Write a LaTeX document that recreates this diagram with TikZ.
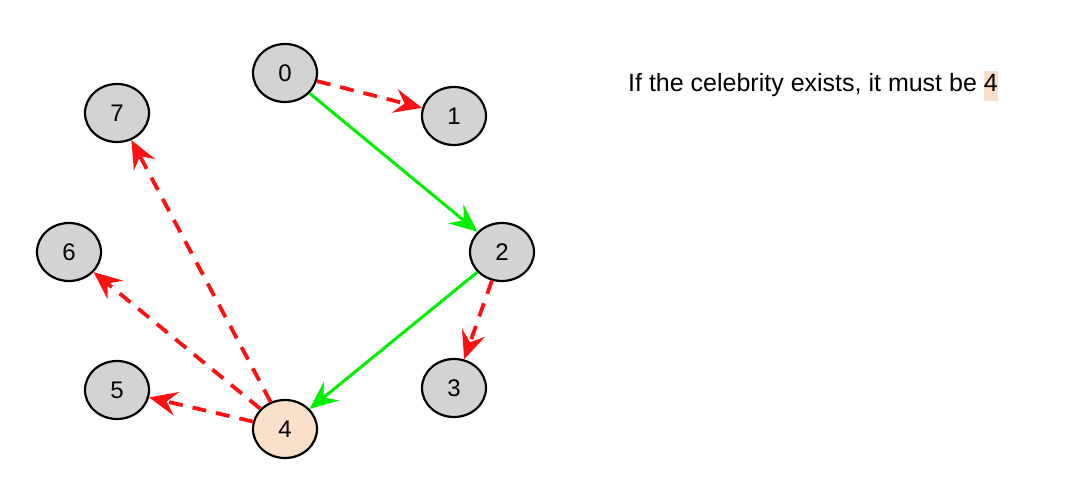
\documentclass[tikz,border=0pt]{standalone}
\usepackage{fontspec}
\setmainfont{Liberation Sans}
\usetikzlibrary{shapes}
\usetikzlibrary{positioning}
\usetikzlibrary{arrows.meta}
\definecolor{vgray}{HTML}{D3D3D3}
\definecolor{celebfill}{HTML}{FAE0C8}
\definecolor{yesgreen}{HTML}{00F000}
\definecolor{nored}{HTML}{FF1010}

\begin{document}
\begin{tikzpicture}[x=1pt,y=-1pt,
            vertex/.style = {draw,ellipse,line width=2.2pt,fill=vgray,
                minimum width=64pt,minimum height=58pt,inner sep=0pt,
                font=\fontsize{24}{28}\selectfont},
            celeb/.style = {vertex,fill=celebfill},
            knows/.style = {draw=yesgreen,line width=3pt,
                -{Stealth[inset=10pt,length=28pt,width=24pt]}},
            unknown/.style = {draw=nored,line width=3.8pt,dash pattern=on 14pt off 10pt,
                -{Stealth[inset=10pt,length=28pt,width=24pt]}}]
            \useasboundingbox (0,0) rectangle (1084,486);
            \node[vertex] (v0) at (285,73) {0};
            \node[vertex] (v1) at (454,116) {1};
            \node[vertex] (v2) at (502,252) {2};
            \node[vertex] (v3) at (454,388) {3};
            \node[celeb] (v4) at (285,429) {4};
            \node[vertex] (v5) at (117,390) {5};
            \node[vertex] (v6) at (69,252) {6};
            \node[vertex] (v7) at (117,113) {7};
            \path[]
                (v0) edge[unknown] (v1)
                (v0) edge[knows] (v2)
                (v2) edge[unknown] (v3)
                (v2) edge[knows] (v4)
                (v4) edge[unknown] (v5)
                (v4) edge[unknown] (v6)
                (v4) edge[unknown] (v7);
            \node[anchor=base west,inner sep=0pt,font=\fontsize{25}{30}\selectfont] (claim) at (628,92)
                {If the celebrity exists, it must be {\setlength{\fboxsep}{0pt}\colorbox{celebfill}{\strut 4}}};
        \end{tikzpicture}
\end{document}
